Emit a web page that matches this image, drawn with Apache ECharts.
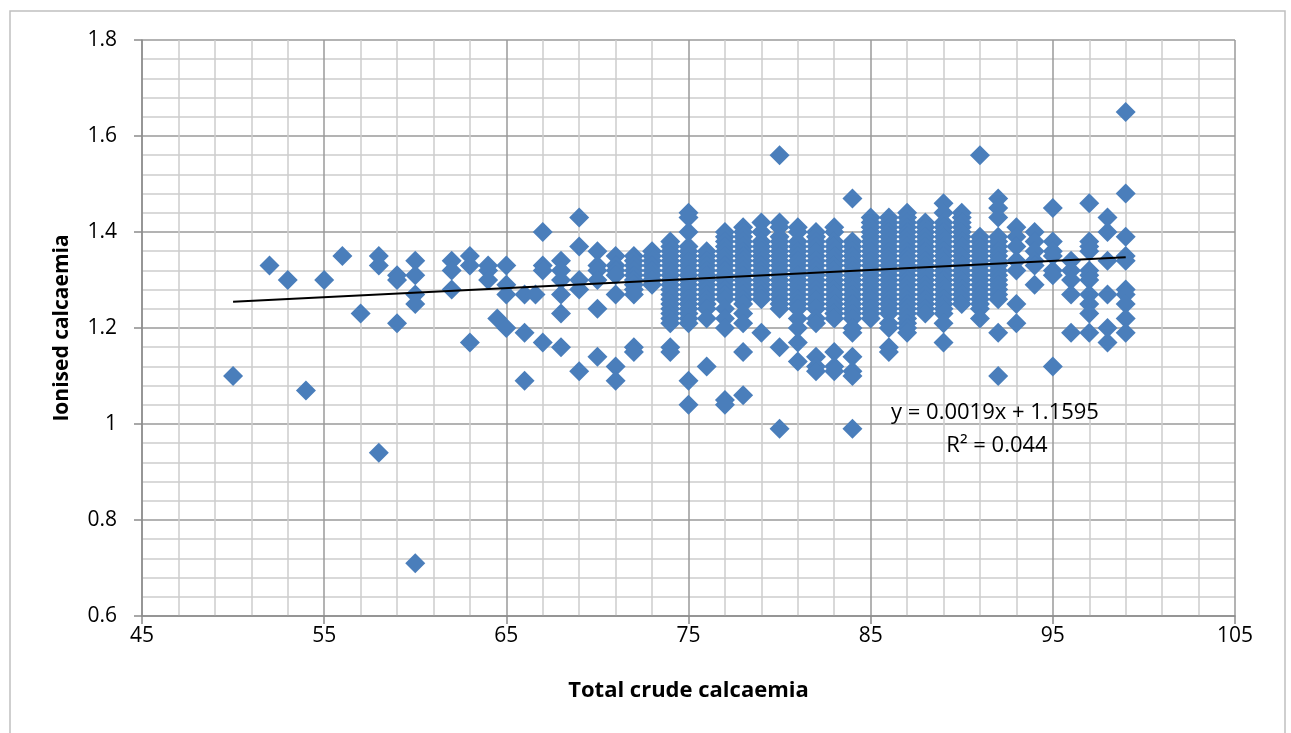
<!DOCTYPE html>
<html>
<head>
<meta charset="utf-8">
<script src="https://cdn.jsdelivr.net/npm/echarts@6/dist/echarts.min.js"></script>
<style>
html,body{margin:0;padding:0;background:#fff;}
#chart{width:1291px;height:733px;}
</style>
</head>
<body>
<div id="chart"></div>
<script>
// X positions (Total crude calcaemia) of each column of points
const xCols = [50,52,53,54,55,56,57,58,59,60,62,63,64,64.5,65,66,66.6,67,68,69,70,71,72,73,74,75,76,77,78,79,80,81,82,83,84,85,86,87,88,89,90,91,92,93,94,95,96,97,98,99];
// Ionised calcaemia values read for each column
const yCols = [
  [1.10],
  [1.33],
  [1.30],
  [1.07],
  [1.30],
  [1.35],
  [1.23],
  [1.35,1.33,0.94],
  [1.31,1.30,1.21],
  [1.34,1.31,1.27,1.25,0.71],
  [1.34,1.32,1.28],
  [1.35,1.33,1.17],
  [1.33,1.32,1.30],
  [1.22],
  [1.33,1.29,1.27,1.20],
  [1.27,1.19,1.09],
  [1.27],
  [1.40,1.33,1.32,1.17],
  [1.34,1.32,1.30,1.27,1.23,1.16],
  [1.43,1.37,1.30,1.28,1.11],
  [1.36,1.33,1.32,1.30,1.24,1.14],
  [1.35,1.33,1.32,1.31,1.27,1.12,1.09],
  [1.35,1.34,1.33,1.32,1.31,1.30,1.29,1.28,1.27,1.16,1.15],
  [1.36,1.35,1.34,1.33,1.32,1.31,1.30,1.29],
  [1.38,1.37,1.36,1.35,1.34,1.33,1.32,1.31,1.30,1.29,1.28,1.27,1.26,1.25,1.24,1.23,1.22,1.21,1.16,1.15],
  [1.44,1.43,1.40,1.37,1.36,1.35,1.34,1.33,1.32,1.31,1.30,1.29,1.28,1.27,1.26,1.25,1.24,1.23,1.22,1.21,1.09,1.04],
  [1.36,1.35,1.34,1.33,1.32,1.31,1.30,1.29,1.28,1.27,1.26,1.25,1.24,1.22,1.12],
  [1.40,1.39,1.38,1.37,1.36,1.35,1.34,1.33,1.32,1.31,1.30,1.29,1.28,1.27,1.26,1.24,1.22,1.20,1.05,1.04],
  [1.41,1.40,1.39,1.38,1.37,1.36,1.35,1.34,1.33,1.32,1.31,1.30,1.29,1.28,1.27,1.26,1.25,1.23,1.21,1.15,1.06],
  [1.42,1.40,1.38,1.37,1.36,1.35,1.34,1.33,1.32,1.31,1.30,1.29,1.28,1.27,1.26,1.19],
  [1.56,1.42,1.41,1.39,1.38,1.37,1.36,1.35,1.34,1.33,1.32,1.31,1.30,1.29,1.28,1.27,1.26,1.25,1.24,1.16,0.99],
  [1.41,1.40,1.38,1.37,1.36,1.35,1.34,1.33,1.32,1.31,1.30,1.29,1.28,1.27,1.26,1.25,1.24,1.22,1.20,1.17,1.13],
  [1.40,1.39,1.38,1.37,1.36,1.35,1.34,1.33,1.32,1.31,1.30,1.29,1.28,1.27,1.26,1.25,1.24,1.22,1.21,1.14,1.12,1.11],
  [1.41,1.40,1.38,1.37,1.36,1.35,1.34,1.33,1.32,1.31,1.30,1.29,1.28,1.27,1.26,1.25,1.24,1.23,1.22,1.15,1.12,1.11],
  [1.47,1.38,1.37,1.36,1.35,1.34,1.33,1.32,1.31,1.30,1.29,1.28,1.27,1.26,1.25,1.24,1.23,1.22,1.20,1.19,1.14,1.11,1.10,0.99],
  [1.43,1.42,1.41,1.40,1.39,1.38,1.37,1.36,1.35,1.34,1.33,1.32,1.31,1.30,1.29,1.28,1.27,1.26,1.25,1.24,1.23,1.22],
  [1.43,1.42,1.41,1.40,1.39,1.38,1.37,1.36,1.35,1.34,1.33,1.32,1.31,1.30,1.29,1.28,1.27,1.26,1.25,1.24,1.23,1.21,1.20,1.16,1.15],
  [1.44,1.43,1.42,1.41,1.40,1.39,1.38,1.37,1.36,1.35,1.34,1.33,1.32,1.31,1.30,1.29,1.28,1.27,1.26,1.25,1.24,1.23,1.22,1.21,1.20,1.19],
  [1.42,1.41,1.40,1.39,1.38,1.37,1.36,1.35,1.34,1.33,1.32,1.31,1.30,1.29,1.28,1.27,1.26,1.25,1.24,1.23],
  [1.46,1.44,1.42,1.41,1.40,1.39,1.38,1.37,1.36,1.35,1.34,1.33,1.32,1.31,1.30,1.29,1.28,1.27,1.26,1.25,1.24,1.23,1.21,1.17],
  [1.44,1.43,1.42,1.41,1.40,1.39,1.38,1.37,1.36,1.35,1.34,1.33,1.32,1.31,1.30,1.29,1.28,1.27,1.26,1.25],
  [1.56,1.39,1.38,1.37,1.36,1.35,1.34,1.33,1.32,1.31,1.30,1.29,1.28,1.27,1.26,1.25,1.24,1.22],
  [1.47,1.45,1.43,1.39,1.38,1.37,1.36,1.35,1.34,1.33,1.32,1.31,1.30,1.29,1.28,1.27,1.26,1.19,1.10],
  [1.41,1.39,1.37,1.34,1.32,1.25,1.21],
  [1.40,1.38,1.36,1.34,1.33,1.29],
  [1.45,1.38,1.36,1.35,1.32,1.31,1.12],
  [1.34,1.32,1.30,1.27,1.19],
  [1.46,1.38,1.37,1.36,1.32,1.31,1.30,1.27,1.25,1.23,1.19],
  [1.43,1.40,1.34,1.27,1.20,1.17],
  [1.65,1.48,1.39,1.35,1.34,1.28,1.27,1.25,1.22,1.19]
];
// Linear trendline endpoints (y = 0.0019x + 1.1595)
const trendX = [50, 99];
const trendY = [1.2545, 1.3476];
const eqLines = ['y = 0.0019x + 1.1595', 'R² = 0.044'];
const xTitle = 'Total crude calcaemia';
const yTitle = 'Ionised calcaemia';

const points = [];
xCols.forEach((x, i) => yCols[i].forEach(y => points.push([x, y])));

const chart = echarts.init(document.getElementById('chart'));
const FONT = 'Open Sans';
chart.setOption({
  animation: false,
  backgroundColor: '#ffffff',
  grid: {left: 142, right: 56, top: 40, bottom: 117},
  xAxis: {
    type: 'value', min: 45, max: 105, interval: 10,
    name: xTitle, nameLocation: 'middle', nameGap: 64,
    nameTextStyle: {fontFamily: FONT, fontWeight: 'bold', fontSize: 22, color: '#000'},
    axisLine: {show: true, onZero: false, lineStyle: {color: '#8c8c8c', width: 1.5}},
    axisTick: {show: true, length: 8, lineStyle: {color: '#8c8c8c', width: 1.5}},
    axisLabel: {fontFamily: FONT, fontSize: 21, color: '#000', margin: 10},
    splitLine: {show: true, lineStyle: {color: '#9a9a9a', width: 1.5}},
    minorTick: {show: false, splitNumber: 5},
    minorSplitLine: {show: true, lineStyle: {color: '#cdcdcd', width: 1.5}}
  },
  yAxis: {
    type: 'value', min: 0.6, max: 1.8, interval: 0.2,
    name: yTitle, nameLocation: 'middle', nameGap: 69,
    nameTextStyle: {fontFamily: FONT, fontWeight: 'bold', fontSize: 21, color: '#000'},
    axisLine: {show: true, onZero: false, lineStyle: {color: '#8c8c8c', width: 1.5}},
    axisTick: {show: true, length: 8, lineStyle: {color: '#8c8c8c', width: 1.5}},
    axisLabel: {fontFamily: FONT, fontSize: 21, color: '#000', margin: 25,
      formatter: v => String(Math.round(v * 10) / 10)},
    splitLine: {show: true, lineStyle: {color: '#9a9a9a', width: 1.5}},
    minorTick: {show: false, splitNumber: 5},
    minorSplitLine: {show: true, lineStyle: {color: '#cdcdcd', width: 1.5}}
  },
  series: [
    {
      type: 'scatter', data: points, symbol: 'diamond', symbolSize: 20,
      itemStyle: {color: '#4a7ebb', opacity: 1}, z: 2
    },
    {
      type: 'line', data: trendX.map((x, i) => [x, trendY[i]]),
      symbol: 'none', lineStyle: {color: '#000', width: 2}, z: 3, silent: true
    }
  ],
  graphic: [
    {type: 'rect', shape: {x: 10, y: 11, width: 1275, height: 760},
     style: {fill: 'none', stroke: '#c0c0c0', lineWidth: 1.5}, silent: true},
    {type: 'text', x: 995, y: 413, style: {text: eqLines[0], font: '22px "Open Sans"', fill: '#000', textAlign: 'center', textVerticalAlign: 'middle'}, z: 10},
    {type: 'text', x: 997, y: 446, style: {text: eqLines[1], font: '22px "Open Sans"', fill: '#000', textAlign: 'center', textVerticalAlign: 'middle'}, z: 10}
  ]
});
</script>
</body>
</html>
